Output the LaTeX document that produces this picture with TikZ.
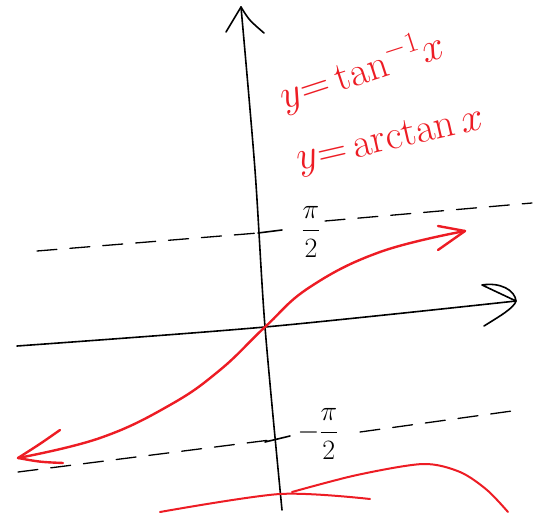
\RequirePackage{fix-cm}
\documentclass[tikz,border=0pt]{standalone}
\usepackage{amsmath}
\usepackage{xcolor}
\usetikzlibrary{positioning}
\definecolor{penred}{RGB}{237,28,36}

\begin{document}
\begin{tikzpicture}[
  x=1pt, y=-1pt,
  axis/.style={draw, black, line width=1.6pt, line cap=round, line join=round},
  guide/.style={draw, black, line width=1.3pt, line cap=round, dash pattern=on 20pt off 13pt},
  curve/.style={draw, penred, line width=2.4pt, line cap=round, line join=round},
  stray/.style={draw, penred, line width=2pt, line cap=round},
  formula/.style={penred, font=\fontsize{41}{44}\selectfont, inner sep=0pt},
  frac/.style={font=\fontsize{28}{32}\selectfont, inner sep=1pt}
]
  \useasboundingbox (0,0) rectangle (543,513);

  % axes
  \coordinate (O) at (265,327);
  \coordinate (ytop) at (241,7);
  \coordinate (xend) at (516,301);
  \draw[axis] plot[smooth] coordinates {(282,510) (O) (255,170) (ytop)};
  \draw[axis] plot[smooth] coordinates {(17,346) (O) (xend)};
  \draw[axis] (226,32) .. controls (234,20) .. (ytop) .. controls (249,20) .. (264,33);
  \draw[axis] (484,326) .. controls (500,316) and (514,308) .. (xend)
              .. controls (515,290) and (500,282) .. (482,285) -- (xend);

  % asymptotes
  \coordinate (tickUp) at (258,233);
  \coordinate (tickLow) at (278,439);
  \draw[guide] (37,251) -- (tickUp);
  \draw[axis] (tickUp) -- (282,230);
  \draw[guide] (325,221) -- (532,203);
  \node[frac] (piHalf) at (311,232) {$\dfrac{\pi}{2}$};
  \draw[guide] (18,472) -- (tickLow);
  \draw[axis] (265,442) -- (290,436);
  \draw[guide] (360,432) -- (512,411);
  \node[frac] (minusPiHalf) at (318,434) {$-\dfrac{\pi}{2}$};

  % arctan curve
  \coordinate (tipL) at (18,458);
  \coordinate (tipR) at (465,231);
  \draw[curve] plot[smooth, tension=0.7] coordinates {(tipL) (100,438) (170,405)
    (220,370) (O) (310,287) (380,252) (tipR)};
  \draw[curve] (60,430) .. controls (40,444) .. (tipL) .. controls (40,462) .. (63,463);
  \draw[curve] (438,226) -- (tipR) -- (438,250);

  % stray strokes
  \draw[stray] plot[smooth] coordinates {(160,512) (280,494) (370,499)};
  \draw[stray] plot[smooth] coordinates {(292,492) (357,475) (423,464) (460,472) (487,490) (508,512)};

  % labels
  \node[formula, rotate=18] (tanInv) at (362,71) {$y{=}\tan^{-1}\!x$};
  \node[formula, rotate=13] (arcTan) at (391,141) {$y{=}\arctan x$};
\end{tikzpicture}
\end{document}
